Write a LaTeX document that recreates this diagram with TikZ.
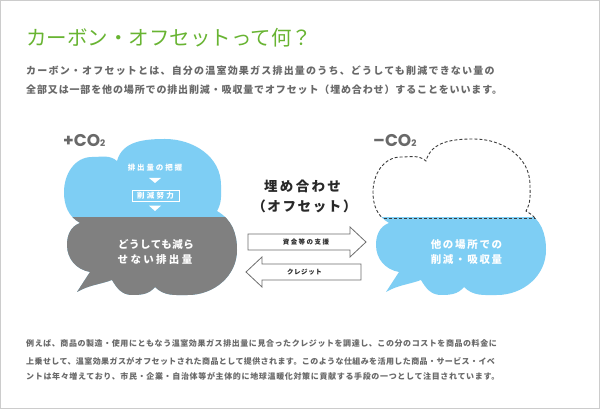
\documentclass[tikz,border=0pt]{standalone}
\usepackage{fontspec}
\newfontfamily\jp{Noto Sans CJK JP}
\newfontfamily\cofont{Poppins}
\definecolor{titlegreen}{RGB}{104,180,50}
\definecolor{textgray}{RGB}{105,105,105}
\definecolor{cblue}{RGB}{126,206,244}
\definecolor{cgray}{RGB}{128,128,128}
\definecolor{bordercol}{RGB}{204,204,204}
\definecolor{dashcol}{RGB}{60,60,60}
\definecolor{arrowcol}{RGB}{110,110,110}
\definecolor{darktext}{RGB}{40,40,40}
\newcommand\ls[2]{\jp\bfseries\fontsize{#1}{#1}\selectfont\addfontfeatures{LetterSpace=#2}}
\newcommand\cloudoutline{(77,117) -- (90,137) to[out=170,in=-90] (67,164) to[out=90,in=200] (80,186) to[out=150,in=-90] (64,217) to[out=90,in=180] (92,252) to[out=0,in=140] (117,248) to[out=75,in=180] (165,270) to[out=0,in=90] (221,224) to[out=-90,in=60] (217,198) to[out=-30,in=90] (237,159) to[out=-90,in=0] (188,114) to[out=180,in=-45] (155,122) to[out=-130,in=0] (132,114) to[out=180,in=-60] (112,129) to[out=-160,in=30] (77,117) -- cycle}
\tikzset{
  txt/.style={inner sep=0pt, anchor=west, text=textgray},
  intxt/.style={inner sep=0pt, text=white},
  midtxt/.style={inner sep=0pt, text=darktext},
  dashline/.style={draw=dashcol, line width=0.9pt, dash pattern=on 3pt off 2pt},
  blockarrow/.style={draw=arrowcol, fill=white, line width=0.8pt, line join=miter},
  cotxt/.style={inner sep=0pt, anchor=west, text=textgray, font=\cofont\bfseries\fontsize{17}{17}\selectfont},
}
\begin{document}
\begin{tikzpicture}[x=1pt,y=1pt]
\useasboundingbox (0,0) rectangle (600,409);
\fill[white] (0,0) rectangle (600,409);
\draw[bordercol, line width=1pt] (0.5,0.5) rectangle (599.5,408.5);

\node[inner sep=0pt, anchor=west, text=titlegreen, font=\jp\fontsize{20.5}{20.5}\selectfont] (title) at (26,371.5) {カーボン・オフセットって何？};

\node[txt] (intro1) at (26,338.2) {\ls{10}{12}カーボン・オフセットとは、自分の温室効果ガス排出量のうち、どうしても削減できない量の};
\node[txt] (intro2) at (26,319) {\ls{10}{8.6}全部又は一部を他の場所での排出削減・吸収量でオフセット（埋め合わせ）することをいいます。};

% left cloud
\fill[cblue] \cloudoutline;
\begin{scope}
  \clip (0,0) rectangle (600,191);
  \fill[cgray] \cloudoutline;
\end{scope}

% right cloud
\begin{scope}[shift={(309,0)}]
  \begin{scope}
    \clip (0,0) rectangle (300,191);
    \fill[cblue] \cloudoutline;
  \end{scope}
  \begin{scope}
    \clip (0,191) rectangle (300,409);
    \draw[dashline] \cloudoutline;
  \end{scope}
  \begin{scope}
    \clip \cloudoutline;
    \draw[dashline] (0,191) -- (300,191);
  \end{scope}
\end{scope}

\node[cotxt] (plusco) at (63,268) {+CO{\fontsize{9}{9}\selectfont 2}};
\node[cotxt] (minusco) at (373,268) {–CO{\fontsize{9}{9}\selectfont 2}};

\node[intxt] (measure) at (155,241) {\ls{7.5}{25}排出量の把握};
\fill[white] (149,231) -- (161,231) -- (155,226) -- cycle;
\node[intxt, draw=white, line width=0.8pt, minimum width=47pt, minimum height=11.7pt] (effort) at (155.5,213.2) {\ls{7.5}{30}削減努力};
\fill[white] (149,203.3) -- (161,203.3) -- (155,198) -- cycle;

\node[intxt] (rem1) at (156,164) {\ls{10.5}{5}どうしても減ら};
\node[intxt] (rem2) at (155,149) {\ls{10.5}{22}せない排出量};
\node[intxt] (oth1) at (466.5,164) {\ls{10.5}{16}他の場所での};
\node[intxt] (oth2) at (466.5,149) {\ls{10.5}{16}削減・吸収量};

\node[midtxt] (offset1) at (302.5,223) {\ls{13.5}{17}埋め合わせ};
\node[midtxt] (offset2) at (304.5,203) {\ls{13.5}{12}（オフセット）};

\draw[blockarrow] (248,159) -- (350,159) -- (350,152) -- (366,167) -- (350,182) -- (350,175) -- (248,175) -- cycle;
\node[midtxt] (fund) at (306,167) {\ls{6.5}{23}資金等の支援};
\draw[blockarrow] (361,129) -- (262,129) -- (262,122) -- (246,137) -- (262,152) -- (262,145) -- (361,145) -- cycle;
\node[midtxt] (credit) at (304.5,137) {\ls{6.5}{8}クレジット};

\node[txt] (ex1) at (26,65.3) {\ls{8}{7.1}例えば、商品の製造・使用にともなう温室効果ガス排出量に見合ったクレジットを調達し、この分のコストを商品の料金に};
\node[txt] (ex2) at (26,48) {\ls{8}{5.1}上乗せして、温室効果ガスがオフセットされた商品として提供されます。このような仕組みを活用した商品・サービス・イベ};
\node[txt] (ex3) at (26,33) {\ls{8}{8.2}ントは年々増えており、市民・企業・自治体等が主体的に地球温暖化対策に貢献する手段の一つとして注目されています。};
\end{tikzpicture}
\end{document}
